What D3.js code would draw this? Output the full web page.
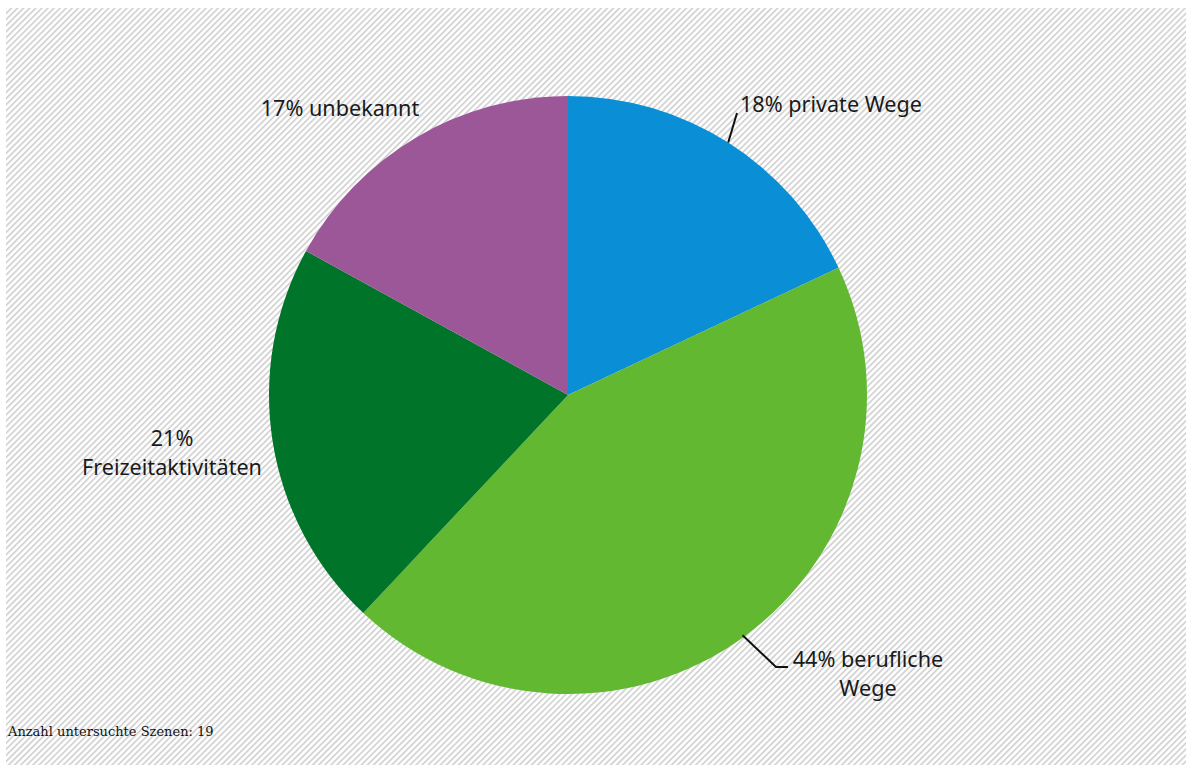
<!DOCTYPE html>
<html>
<head>
<meta charset="utf-8">
<script src="https://cdn.jsdelivr.net/npm/d3@7"></script>
<style>
  html, body { margin: 0; padding: 0; background: #ffffff; }
  svg { display: block; }
</style>
</head>
<body>
<svg id="chart" width="1188" height="769"></svg>
<script>
// Reasons for the trips in the examined scenes (shares in percent)
const categories = ["private Wege", "berufliche Wege", "Freizeitaktivitäten", "unbekannt"];
const shares = [18, 44, 21, 17];
const colors = ["#0a8fd6", "#63b832", "#007428", "#9c5799"];
const footnote = "Anzahl untersuchte Szenen: 19";

const svg = d3.select("#chart");
const W = 1188, H = 769;

// diagonal hatched background
const defs = svg.append("defs");
const pat = defs.append("pattern")
  .attr("id", "hatch")
  .attr("patternUnits", "userSpaceOnUse")
  .attr("width", 4.3)
  .attr("height", 4.3)
  .attr("patternTransform", "rotate(45)");
pat.append("rect").attr("width", 4.3).attr("height", 4.3).attr("fill", "#ffffff");
pat.append("rect").attr("x", 0).attr("width", 1.8).attr("height", 4.3).attr("fill", "#d4d4d4");

svg.append("rect")
  .attr("x", 6).attr("y", 8)
  .attr("width", W - 8).attr("height", H - 12)
  .attr("fill", "url(#hatch)");

const cx = 568, cy = 395, R = 299;
const g = svg.append("g").attr("transform", `translate(${cx},${cy})`);

const pie = d3.pie().sort(null).value(d => d.value);
const data = categories.map((c, i) => ({ name: c, value: shares[i], color: colors[i] }));
const arcs = pie(data);
const arc = d3.arc().innerRadius(0).outerRadius(R);

g.selectAll("path.slice")
  .data(arcs)
  .join("path")
  .attr("class", "slice")
  .attr("d", arc)
  .attr("fill", d => d.data.color);

// labels
const labelFont = "'Noto Sans', 'Open Sans', sans-serif";
const labels = [
  { lines: [`${shares[0]}% ${categories[0]}`], x: 740, y: 112, anchor: "start" },
  { lines: [`${shares[1]}% berufliche`, "Wege"], x: 868, y: 667, anchor: "middle" },
  { lines: [`${shares[2]}%`, categories[2]], x: 172, y: 446, anchor: "middle" },
  { lines: [`${shares[3]}% ${categories[3]}`], x: 340, y: 116, anchor: "middle" }
];
const lineH = 29;

labels.forEach(l => {
  const t = svg.append("text")
    .attr("x", l.x).attr("y", l.y)
    .attr("text-anchor", l.anchor)
    .attr("font-family", labelFont)
    .attr("font-size", 21.6)
    .attr("fill", "#1a1a1a");
  l.lines.forEach((s, i) => {
    t.append("tspan").attr("x", l.x).attr("dy", i === 0 ? 0 : lineH).text(s);
  });
});

// leader lines
const leader = d3.line();
const onEdge = (angle, r) => [cx + r * Math.sin(angle), cy - r * Math.cos(angle)];
const a0 = (arcs[0].startAngle + arcs[0].endAngle) / 2;
const p0 = onEdge(a0, R);
svg.append("path")
  .attr("d", leader([p0, [737, 113]]))
  .attr("fill", "none").attr("stroke", "#111").attr("stroke-width", 2);

const a1 = (arcs[1].startAngle + arcs[1].endAngle) / 2;
const p1 = onEdge(a1, R - 2);
svg.append("path")
  .attr("d", leader([p1, [776, 667], [788, 667]]))
  .attr("fill", "none").attr("stroke", "#111").attr("stroke-width", 2);

// footnote
svg.append("text")
  .attr("x", 8).attr("y", 736)
  .attr("font-family", "'DejaVu Serif', 'Liberation Serif', serif")
  .attr("font-size", 13)
  .attr("fill", "#111")
  .text(footnote);
</script>
</body>
</html>
